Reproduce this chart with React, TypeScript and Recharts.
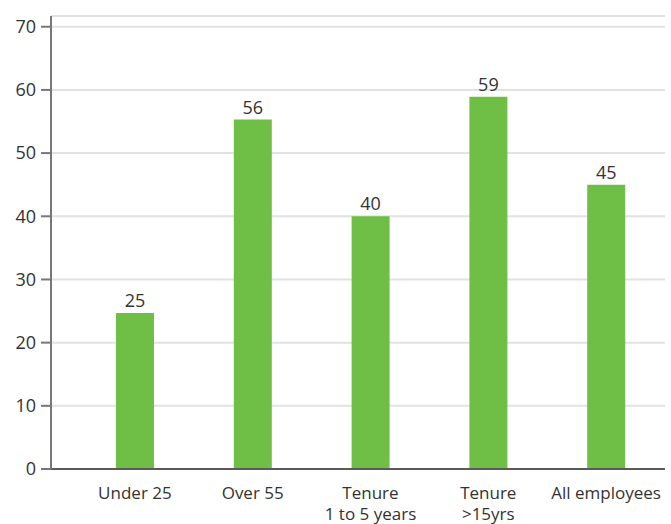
import React from "react";
import { BarChart, Bar, XAxis, YAxis, CartesianGrid, LabelList } from "recharts";

const categories = ["Under 25", "Over 55", "Tenure\n1 to 5 years", "Tenure\n>15yrs", "All employees"];
const values = [24.7, 55.3, 40, 58.9, 45];
const valueLabels = ["25", "56", "40", "59", "45"];
const yTicks = [0, 10, 20, 30, 40, 50, 60, 70];

const data = categories.map((c, i) => ({ name: c, value: values[i], label: valueLabels[i] }));

const FONT = "'Open Sans', sans-serif";
const TEXT = "#333333";

const XTick = (props: any) => {
  const { x, y, payload } = props;
  const lines = String(payload.value).split("\n");
  return (
    <text x={x} y={y} textAnchor="middle" fill={TEXT} fontFamily={FONT} fontSize={17}>
      {lines.map((l, i) => (
        <tspan key={i} x={x} dy={i === 0 ? 22 : 21}>
          {l}
        </tspan>
      ))}
    </text>
  );
};

export default function App() {
  return (
    <div style={{ position: "absolute", left: 0, top: 0, background: "#fff" }}>
      <BarChart
        width={671}
        height={524}
        data={data}
        margin={{ top: 16, right: 6, bottom: 0, left: 0 }}
        barCategoryGap={0}
      >
        <CartesianGrid vertical={false} stroke="#e2e2e2" strokeWidth={2} />
        <XAxis
          dataKey="name"
          height={55}
          padding={{ left: 25, right: 0 }}
          tickLine={false}
          axisLine={{ stroke: "#5a5a5a", strokeWidth: 2 }}
          tick={<XTick />}
          interval={0}
        />
        <YAxis
          width={51}
          domain={[0, 71.7]}
          ticks={yTicks}
          interval={0}
          tickSize={10}
          tickMargin={5}
          axisLine={{ stroke: "#777", strokeWidth: 2 }}
          tickLine={{ stroke: "#777", strokeWidth: 2 }}
          tick={{ fill: TEXT, fontFamily: FONT, fontSize: 18 }}
        />
        <Bar dataKey="value" fill="#6fbe45" barSize={38} isAnimationActive={false}>
          <LabelList
            dataKey="label"
            position="top"
            offset={6}
            fill={TEXT}
            fontFamily={FONT}
            fontSize={18}
          />
        </Bar>
      </BarChart>
    </div>
  );
}
